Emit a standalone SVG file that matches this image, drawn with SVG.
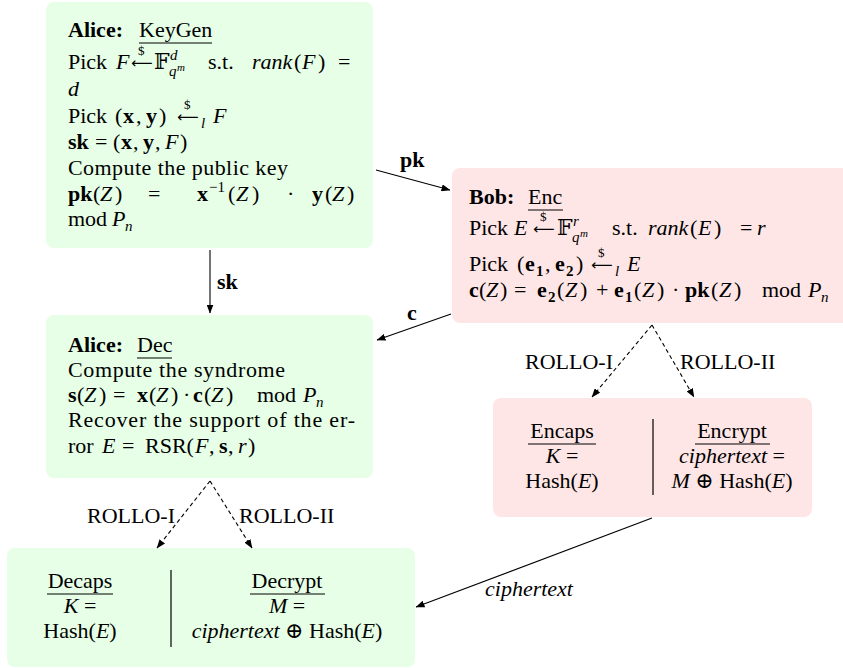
<svg xmlns="http://www.w3.org/2000/svg" width="843" height="668" viewBox="0 0 843 668">
<style>
text{font-family:"Liberation Serif","DejaVu Serif",serif;font-size:22px;fill:#000}
.i{font-style:italic}
.b{font-weight:bold}
.s{font-size:15px}
.ss{font-size:11px}
.d{font-size:13px}
.a{font-family:"DejaVu Sans",sans-serif;font-size:15px}
.m{text-anchor:middle}
.g{fill:#e6ffe6}
.r{fill:#ffe6e6}
.ul{stroke:#000;stroke-width:1}
.dv{stroke:#000;stroke-width:1.2}
.e{stroke:#000;stroke-width:1.1;fill:none;marker-end:url(#ah)}
.dash{stroke-dasharray:4 3}
</style>
<defs>
<marker id="ah" markerUnits="userSpaceOnUse" markerWidth="9" markerHeight="7" refX="8.5" refY="3.5" orient="auto"><path d="M0,0 L9,3.5 L0,7 z" fill="#000"/></marker>
</defs>

<g id="alice-keygen">
<rect class="g" x="46" y="2" width="327" height="246" rx="8"/>
<text y="37"><tspan x="68" class="b">Alice:</tspan><tspan x="139">KeyGen</tspan></text>
<line class="ul" x1="139" y1="43" x2="212" y2="43"/>
<text y="69"><tspan x="68">Pick</tspan><tspan x="116" class="i">F</tspan><tspan x="131" y="68" class="a">⟵</tspan><tspan x="154" y="69">𝔽</tspan><tspan x="170" y="60" class="s i">d</tspan><tspan x="169" y="76" class="s i">q</tspan><tspan x="177" y="71" class="ss i">m</tspan><tspan x="208" y="69">s.t.</tspan><tspan x="252" class="i">rank</tspan><tspan x="294">(</tspan><tspan x="302" class="i">F</tspan><tspan x="318">)</tspan><tspan x="338">=</tspan></text>
<text x="138" y="55" class="d">$</text>
<text x="68" y="96" class="i">d</text>
<text y="123"><tspan x="68">Pick</tspan><tspan x="115">(</tspan><tspan x="123" class="b">x</tspan><tspan x="136">,</tspan><tspan x="146" class="b">y</tspan><tspan x="159">)</tspan><tspan x="177" y="122" class="a">⟵</tspan><tspan x="201" y="128" class="s i">l</tspan><tspan x="213" y="123" class="i">F</tspan></text>
<text x="184" y="109" class="d">$</text>
<text y="149"><tspan x="68" class="b">sk</tspan><tspan x="95">=</tspan><tspan x="113">(</tspan><tspan x="121" class="b">x</tspan><tspan x="133">,</tspan><tspan x="143" class="b">y</tspan><tspan x="155">,</tspan><tspan x="165" class="i">F</tspan><tspan x="180">)</tspan></text>
<text x="68" y="175" textLength="220" lengthAdjust="spacing">Compute the public key</text>
<text y="201"><tspan x="68" class="b">pk</tspan><tspan x="93">(</tspan><tspan x="100" class="i">Z</tspan><tspan x="115">)</tspan><tspan x="148">=</tspan><tspan x="197" class="b">x</tspan><tspan x="209" y="192" class="s">−1</tspan><tspan x="228" y="201">(</tspan><tspan x="236" class="i">Z</tspan><tspan x="252">)</tspan><tspan x="287">·</tspan><tspan x="312" class="b">y</tspan><tspan x="325">(</tspan><tspan x="332" class="i">Z</tspan><tspan x="347">)</tspan></text>
<text y="226"><tspan x="68">mod</tspan><tspan x="112" class="i">P</tspan><tspan x="125" y="231" class="s i">n</tspan></text>
</g>

<g id="bob-enc">
<rect class="r" x="452" y="168" width="400" height="155" rx="8"/>
<text y="204"><tspan x="469" class="b">Bob:</tspan><tspan x="528">Enc</tspan></text>
<line class="ul" x1="528" y1="210" x2="563" y2="210"/>
<text y="235"><tspan x="469">Pick</tspan><tspan x="514" class="i">E</tspan><tspan x="533" y="234" class="a">⟵</tspan><tspan x="557" y="235">𝔽</tspan><tspan x="573" y="226" class="s i">r</tspan><tspan x="572" y="242" class="s i">q</tspan><tspan x="580" y="237" class="ss i">m</tspan><tspan x="612" y="235">s.t.</tspan><tspan x="648" class="i">rank</tspan><tspan x="690">(</tspan><tspan x="698" class="i">E</tspan><tspan x="714">)</tspan><tspan x="740">=</tspan><tspan x="757" class="i">r</tspan></text>
<text x="540" y="221" class="d">$</text>
<text y="271"><tspan x="469">Pick</tspan><tspan x="517">(</tspan><tspan x="525" class="b">e</tspan><tspan x="536" y="276" class="s b">1</tspan><tspan x="545" y="271">,</tspan><tspan x="555" class="b">e</tspan><tspan x="566" y="276" class="s b">2</tspan><tspan x="576" y="271">)</tspan><tspan x="591" y="270" class="a">⟵</tspan><tspan x="615" y="276" class="s i">l</tspan><tspan x="627" y="271" class="i">E</tspan></text>
<text x="598" y="257" class="d">$</text>
<text y="297"><tspan x="469" class="b">c</tspan><tspan x="479">(</tspan><tspan x="486" class="i">Z</tspan><tspan x="500">)</tspan><tspan x="514">=</tspan><tspan x="537" class="b">e</tspan><tspan x="548" y="302" class="s b">2</tspan><tspan x="557" y="297">(</tspan><tspan x="565" class="i">Z</tspan><tspan x="580">)</tspan><tspan x="596">+</tspan><tspan x="614" class="b">e</tspan><tspan x="625" y="302" class="s b">1</tspan><tspan x="634" y="297">(</tspan><tspan x="642" class="i">Z</tspan><tspan x="657">)</tspan><tspan x="672">·</tspan><tspan x="685" class="b">pk</tspan><tspan x="711">(</tspan><tspan x="719" class="i">Z</tspan><tspan x="734">)</tspan><tspan x="762">mod</tspan><tspan x="808" class="i">P</tspan><tspan x="821" y="302" class="s i">n</tspan></text>
</g>

<g id="alice-dec">
<rect class="g" x="46" y="315" width="327" height="163" rx="8"/>
<text y="352"><tspan x="68" class="b">Alice:</tspan><tspan x="137">Dec</tspan></text>
<line class="ul" x1="137" y1="358" x2="172" y2="358"/>
<text x="68" y="377" textLength="217" lengthAdjust="spacing">Compute the syndrome</text>
<text y="402"><tspan x="68" class="b">s</tspan><tspan x="77">(</tspan><tspan x="84" class="i">Z</tspan><tspan x="99">)</tspan><tspan x="113">=</tspan><tspan x="137" class="b">x</tspan><tspan x="149">(</tspan><tspan x="156" class="i">Z</tspan><tspan x="171">)</tspan><tspan x="183">·</tspan><tspan x="193" class="b">c</tspan><tspan x="204">(</tspan><tspan x="211" class="i">Z</tspan><tspan x="226">)</tspan><tspan x="257">mod</tspan><tspan x="303" class="i">P</tspan><tspan x="316" y="407" class="s i">n</tspan></text>
<text x="68" y="427" textLength="287" lengthAdjust="spacing">Recover the support of the er-</text>
<text y="453"><tspan x="68">ror</tspan><tspan x="102" class="i">E</tspan><tspan x="122">=</tspan><tspan x="145">RSR(</tspan><tspan x="195" class="i">F</tspan><tspan x="209">,</tspan><tspan x="219" class="b">s</tspan><tspan x="228">,</tspan><tspan x="238" class="i">r</tspan><tspan x="248">)</tspan></text>
</g>

<g id="encaps-encrypt">
<rect class="r" x="493" y="398" width="319" height="119" rx="8"/>
<line class="dv" x1="653" y1="419" x2="653" y2="495"/>
<text class="m" x="562" y="438">Encaps</text>
<line class="ul" x1="528" y1="444" x2="596" y2="444"/>
<text class="m" x="562" y="463"><tspan class="i">K</tspan> =</text>
<text class="m" x="562" y="488">Hash(<tspan class="i">E</tspan>)</text>
<text class="m" x="732" y="438">Encrypt</text>
<line class="ul" x1="695" y1="444" x2="770" y2="444"/>
<text class="m" x="732" y="463"><tspan class="i">ciphertext</tspan> =</text>
<text class="m" x="732" y="488"><tspan class="i">M</tspan> ⊕ Hash(<tspan class="i">E</tspan>)</text>
</g>

<g id="decaps-decrypt">
<rect class="g" x="7" y="548" width="408" height="119" rx="8"/>
<line class="dv" x1="171" y1="570" x2="171" y2="647"/>
<text class="m" x="80" y="588">Decaps</text>
<line class="ul" x1="47" y1="594" x2="113" y2="594"/>
<text class="m" x="80" y="613"><tspan class="i">K</tspan> =</text>
<text class="m" x="80" y="638">Hash(<tspan class="i">E</tspan>)</text>
<text class="m" x="287" y="588">Decrypt</text>
<line class="ul" x1="250" y1="594" x2="325" y2="594"/>
<text class="m" x="287" y="613"><tspan class="i">M</tspan> =</text>
<text class="m" x="287" y="638"><tspan class="i">ciphertext</tspan> ⊕ Hash(<tspan class="i">E</tspan>)</text>
</g>

<g id="connectors">
<line class="e" x1="376" y1="170" x2="450" y2="190"/>
<text class="b" x="400" y="167">pk</text>
<line class="e" x1="210" y1="250" x2="210" y2="313"/>
<text class="b" x="217" y="289">sk</text>
<line class="e" x1="451" y1="314" x2="377" y2="340"/>
<text class="b" x="407" y="320">c</text>
<line class="e dash" x1="652" y1="325" x2="592" y2="397"/>
<line class="e dash" x1="652" y1="325" x2="694" y2="397"/>
<text x="525" y="369">ROLLO-I</text>
<text x="680" y="369">ROLLO-II</text>
<line class="e dash" x1="210" y1="481" x2="157" y2="548"/>
<line class="e dash" x1="210" y1="481" x2="252" y2="548"/>
<text x="87" y="523">ROLLO-I</text>
<text x="239" y="523">ROLLO-II</text>
<line class="e" x1="652" y1="518" x2="416" y2="607"/>
<text class="i" x="485" y="596">ciphertext</text>
</g>
</svg>
